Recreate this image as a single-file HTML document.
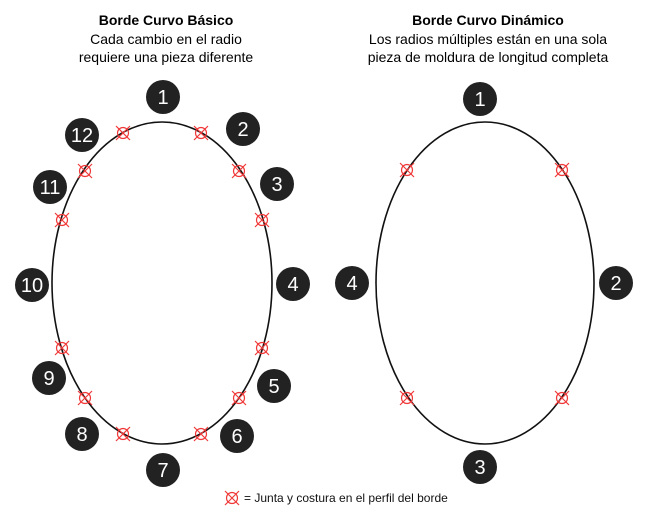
<!DOCTYPE html>
<html><head><style>body{margin:0;background:#fff}svg{display:block}</style></head><body>
<svg width="650" height="521" xmlns="http://www.w3.org/2000/svg" font-family="Liberation Sans, sans-serif">
<defs><g id="m"><circle r="5.5" fill="none" stroke="#f03838" stroke-width="1.2"/><path d="M-7,-7L7,7M7,-7L-7,7" stroke="#f03838" stroke-width="1.2"/></g></defs>
<g text-anchor="middle" font-size="14" fill="#000">
<text x="166" y="25" font-weight="bold">Borde Curvo Básico</text>
<text x="166" y="44">Cada cambio en el radio</text>
<text x="166" y="62">requiere una pieza diferente</text>
<text x="488" y="25" font-weight="bold">Borde Curvo Dinámico</text>
<text x="488" y="44">Los radios múltiples están en una sola</text>
<text x="488" y="62">pieza de moldura de longitud completa</text>
</g>
<ellipse cx="162" cy="283" rx="110" ry="161" fill="none" stroke="#111" stroke-width="1.6"/>
<ellipse cx="485" cy="283" rx="109" ry="161" fill="none" stroke="#111" stroke-width="1.6"/>
<use href="#m" x="123" y="133"/><use href="#m" x="201" y="133"/><use href="#m" x="239" y="171"/><use href="#m" x="262" y="220"/>
<use href="#m" x="262" y="348"/><use href="#m" x="239" y="398"/><use href="#m" x="201" y="434"/><use href="#m" x="123" y="434"/>
<use href="#m" x="85" y="398"/><use href="#m" x="62" y="348"/><use href="#m" x="62" y="220"/><use href="#m" x="85" y="171"/>
<use href="#m" x="407" y="170"/><use href="#m" x="562" y="170"/><use href="#m" x="407" y="398"/><use href="#m" x="562" y="398"/>
<g fill="#222"><circle cx="163" cy="97" r="17"/><circle cx="243" cy="129" r="17"/><circle cx="277" cy="184" r="17"/><circle cx="293" cy="284" r="17"/><circle cx="274" cy="386" r="17"/><circle cx="237" cy="436" r="17"/><circle cx="163" cy="470" r="17"/><circle cx="82" cy="434" r="17"/><circle cx="49" cy="378" r="17"/><circle cx="32" cy="285" r="17"/><circle cx="50" cy="187" r="17"/><circle cx="82" cy="135" r="17"/>
<circle cx="480" cy="99" r="17"/><circle cx="616" cy="283" r="17"/><circle cx="480" cy="467" r="17"/><circle cx="352" cy="283" r="17"/></g>
<g fill="#fff" font-size="20" text-anchor="middle">
<text x="163" y="104">1</text><text x="243" y="136">2</text><text x="277" y="191">3</text><text x="293" y="291">4</text><text x="274" y="393">5</text><text x="237" y="443">6</text><text x="163" y="477">7</text><text x="82" y="441">8</text><text x="49" y="385">9</text><text x="32" y="292">10</text><text x="50" y="194">11</text><text x="82" y="142">12</text>
<text x="480" y="106">1</text><text x="616" y="290">2</text><text x="480" y="474">3</text><text x="352" y="290">4</text></g>
<use href="#m" x="232" y="498"/>
<text x="244" y="502" font-size="12" fill="#111">= Junta y costura en el perfil del borde</text>
</svg>
</body></html>
